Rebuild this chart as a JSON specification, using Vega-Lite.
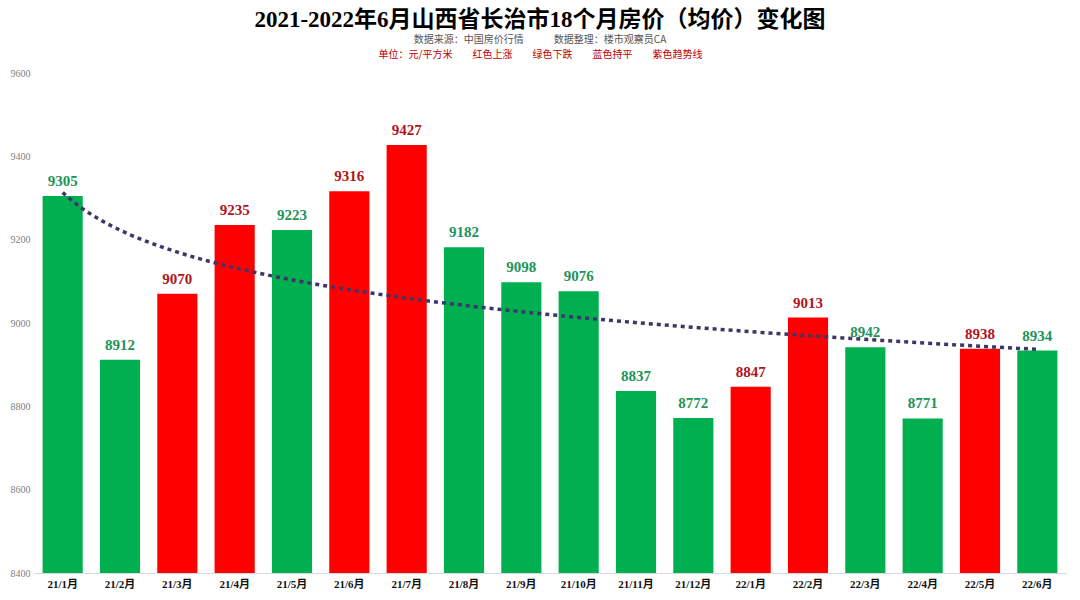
{
  "$schema": "https://vega.github.io/schema/vega-lite/v6.json",
  "autosize": {"type": "none"},
  "width": 1032,
  "height": 500,
  "padding": {"left": 34, "top": 73, "right": 14, "bottom": 27},
  "background": "white",
  "config": {"view": {"stroke": null}},
  "title": {
    "text": "2021-2022年6月山西省长治市18个月房价（均价）变化图",
    "subtitle": "数据来源：中国房价行情　　　数据整理：楼市观察员CA",
    "anchor": "middle",
    "dx": -10,
    "font": "Liberation Serif, Noto Sans CJK SC",
    "fontSize": 23,
    "fontWeight": "bold",
    "color": "#000000",
    "subtitleFont": "Noto Sans CJK SC",
    "subtitleFontSize": 10,
    "subtitleColor": "#555555",
    "subtitlePadding": 3,
    "offset": 4
  },
  "data": {
    "values": [
      {"month": "21/1月", "idx": 1, "price": 9305, "change": "下跌"},
      {"month": "21/2月", "idx": 2, "price": 8912, "change": "下跌"},
      {"month": "21/3月", "idx": 3, "price": 9070, "change": "上涨"},
      {"month": "21/4月", "idx": 4, "price": 9235, "change": "上涨"},
      {"month": "21/5月", "idx": 5, "price": 9223, "change": "下跌"},
      {"month": "21/6月", "idx": 6, "price": 9316, "change": "上涨"},
      {"month": "21/7月", "idx": 7, "price": 9427, "change": "上涨"},
      {"month": "21/8月", "idx": 8, "price": 9182, "change": "下跌"},
      {"month": "21/9月", "idx": 9, "price": 9098, "change": "下跌"},
      {"month": "21/10月", "idx": 10, "price": 9076, "change": "下跌"},
      {"month": "21/11月", "idx": 11, "price": 8837, "change": "下跌"},
      {"month": "21/12月", "idx": 12, "price": 8772, "change": "下跌"},
      {"month": "22/1月", "idx": 13, "price": 8847, "change": "上涨"},
      {"month": "22/2月", "idx": 14, "price": 9013, "change": "上涨"},
      {"month": "22/3月", "idx": 15, "price": 8942, "change": "下跌"},
      {"month": "22/4月", "idx": 16, "price": 8771, "change": "下跌"},
      {"month": "22/5月", "idx": 17, "price": 8938, "change": "上涨"},
      {"month": "22/6月", "idx": 18, "price": 8934, "change": "下跌"}
    ]
  },
  "layer": [
    {
      "encoding": {
        "x": {
          "field": "month", "type": "ordinal", "sort": null,
          "scale": {"paddingInner": 0.3, "paddingOuter": 0.15},
          "axis": {
            "title": null, "labelAngle": 0, "ticks": false,
            "domainColor": "#d9d9d9", "domainWidth": 1,
            "labelFont": "Liberation Serif, Noto Sans CJK SC", "labelFontSize": 11,
            "labelFontWeight": "bold", "labelColor": "#111111", "labelPadding": 5
          }
        },
        "y": {
          "field": "price", "type": "quantitative",
          "scale": {"domain": [8400, 9600], "nice": false, "zero": false},
          "axis": {
            "title": null, "values": [8400, 8600, 8800, 9000, 9200, 9400, 9600],
            "format": "d",
            "grid": false, "ticks": false, "domain": false,
            "labelFont": "Liberation Serif", "labelFontSize": 10,
            "labelColor": "#808080", "labelPadding": 4
          }
        }
      },
      "layer": [
        {
          "mark": {"type": "bar", "clip": true},
          "encoding": {
            "y2": {"datum": 8400},
            "color": {
              "field": "change", "type": "nominal",
              "scale": {"domain": ["上涨", "下跌", "持平"], "range": ["#ff0000", "#00b050", "#0070c0"]},
              "legend": null
            }
          }
        },
        {
          "mark": {"type": "text", "dy": -15, "font": "Liberation Serif", "fontSize": 15, "fontWeight": "bold"},
          "encoding": {
            "text": {"field": "price", "type": "quantitative", "format": "d"},
            "color": {
              "field": "change", "type": "nominal",
              "scale": {"domain": ["上涨", "下跌", "持平"], "range": ["#b0141e", "#1e9458", "#1f4e9a"]},
              "legend": null
            }
          }
        }
      ],
      "resolve": {"scale": {"color": "independent"}}
    },
    {
      "transform": [
        {"regression": "price", "on": "idx", "method": "log", "extent": [1, 18]}
      ],
      "mark": {"type": "line", "color": "#3d3768", "strokeWidth": 3.5, "strokeDash": [4, 4]},
      "encoding": {
        "x": {
          "field": "idx", "type": "quantitative",
          "scale": {"domain": [0.5, 18.5], "nice": false, "zero": false},
          "axis": {
            "orient": "top", "labels": false, "ticks": false, "domain": false, "grid": false,
            "title": "单位：元/平方米　　红色上涨　　绿色下跌　　蓝色持平　　紫色趋势线",
            "titleFont": "Noto Sans CJK SC", "titleFontSize": 10, "titleFontWeight": "normal",
            "titleColor": "#c00000", "titlePadding": 14, "titleX": 506
          }
        },
        "y": {"field": "price", "type": "quantitative"}
      }
    }
  ],
  "resolve": {"scale": {"x": "independent"}}
}
